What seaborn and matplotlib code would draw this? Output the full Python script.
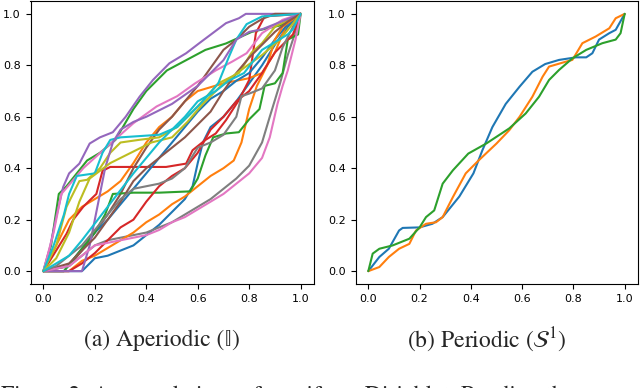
import matplotlib
matplotlib.use("Agg")
import matplotlib.pyplot as plt
import seaborn as sns
import numpy as np
import pandas as pd

# ---------------- data ----------------
# Aperiodic panel: 20 accumulated curves (tab10 order, two of each colour)
ap_blue_a_x = [0, .15, .2, .25, .3, .35, .4, .45, .5, .55, .58, .6, .62, .65, .7, .75, .8, .85, .9, .95, 1]
ap_blue_a_y = [0, 0, .05, .06, .08, .1, .14, .18, .23, .28, .33, .42, .5, .56, .6, .66, .73, .8, .88, .95, 1]
ap_orange_a_x = [0, .05, .1, .15, .2, .25, .3, .35, .4, .45, .5, .55, .6, .7, .8, .85, .9, .95, 1]
ap_orange_a_y = [0, .1, .2, .25, .28, .31, .35, .42, .5, .56, .6, .66, .7, .73, .75, .77, .85, .97, 1]
ap_green_a_x = [0, .03, .06, .09, .13, .17, .22, .28, .35, .4, .48, .555, .63, .71, .81, .92, .97, 1]
ap_green_a_y = [0, .1, .3, .33, .38, .43, .46, .51, .63, .7, .78, .82, .86, .885, .93, .955, .98, 1]
ap_red_a_x = [0, .09, .116, .155, .18, .206, .23, .26, .374, .477, .555, .58, .63, .67, .71, .76, .8, .826, .86, 1]
ap_red_a_y = [0, .145, .2, .25, .275, .3, .39, .405, .405, .405, .418, .47, .51, .535, .587, .665, .743, .925, .99, 1]
ap_purple_a_x = [0, .026, .05, .077, .1, .14, .18, .22, .27, .32, .374, .426, .49, .555, .606, .658, .71, .76, .787, 1]
ap_purple_a_y = [0, .094, .21, .327, .38, .418, .496, .52, .54, .6, .678, .743, .808, .847, .886, .925, .964, .983, 1, 1]
ap_brown_a_x = [0, .1, .15, .2, .25, .3, .35, .4, .45, .5, .55, .6, .65, .7, .75, .8, .85, .9, 1]
ap_brown_a_y = [0, .02, .08, .15, .22, .3, .4, .48, .55, .6, .66, .72, .79, .86, .9, .95, .98, 1, 1]
ap_pink_a_x = [0, .04, .07, .155, .26, .35, .44, .52, .59, .67, .735, .79, .85, .93, 1]
ap_pink_a_y = [0, .15, .3, .4, .495, .575, .64, .68, .73, .78, .815, .847, .925, .977, 1]
ap_gray_a_x = [0, .1, .15, .2, .25, .3, .35, .4, .45, .5, .55, .6, .65, .7, .75, .8, .85, .88, .92, .95, .97, 1]
ap_gray_a_y = [0, .02, .06, .1, .12, .13, .14, .15, .17, .19, .22, .25, .28, .32, .36, .41, .5, .6, .73, .84, .9, 1]
ap_olive_a_x = [0, .05, .09, .14, .17, .22, .26, .3, .37, .45, .52, .6, .68, .76, .81, .85, .9, 1]
ap_olive_a_y = [0, .1, .25, .35, .355, .4, .46, .5, .51, .52, .56, .64, .73, .77, .85, .886, .95, 1]
ap_cyan_a_x = [0, .04, .08, .1, .13, .2, .23, .26, .3, .45, .52, .57, .62, .68, .72, .75, .79, .85, 1]
ap_cyan_a_y = [0, .1, .22, .3, .37, .38, .46, .51, .52, .53, .56, .61, .66, .73, .83, .9, .96, .99, 1]
ap_blue_b_x = [0, .08, .12, .2, .25, .3, .35, .4, .45, .5, .55, .6, .65, .7, .75, .8, .85, .9, .95, 1]
ap_blue_b_y = [0, 0, .05, .15, .2, .26, .32, .38, .44, .5, .56, .62, .67, .7, .74, .77, .83, .9, .96, 1]
ap_orange_b_x = [0, .1, .15, .2, .25, .3, .35, .4, .45, .5, .55, .6, .65, .7, .74, .77, .8, .83, .87, .9, .93, 1]
ap_orange_b_y = [0, 0, .04, .06, .09, .12, .15, .19, .22, .26, .29, .33, .37, .4, .43, .5, .63, .72, .8, .9, .95, 1]
ap_green_b_x = [0, .08, .12, .16, .2, .24, .27, .35, .45, .57, .6, .63, .66, .71, .76, .8, .84, .86, .9, .93, .95, .99, 1]
ap_green_b_y = [0, 0, .05, .1, .15, .22, .3, .305, .305, .31, .36, .45, .52, .535, .54, .59, .63, .72, .73, .77, .9, .92, 1]
ap_red_b_x = [0, .1, .15, .2, .25, .3, .35, .4, .45, .5, .55, .6, .65, .7, .75, .8, .85, .9, .95, .97, 1]
ap_red_b_y = [0, 0, .03, .07, .12, .17, .2, .27, .33, .37, .4, .46, .55, .6, .66, .7, .77, .85, .9, .92, 1]
ap_purple_b_x = [0, .15, .18, .2, .22, .24, .27, .3, .35, .4, .5, .6, .7, .75, .8, .85, .9, .95, 1]
ap_purple_b_y = [0, 0, .1, .2, .3, .4, .5, .55, .58, .6, .65, .72, .82, .9, .93, .94, .96, .98, 1]
ap_brown_b_x = [0, .1, .15, .2, .25, .3, .35, .4, .45, .5, .55, .6, .65, .7, .75, .8, .85, .9, .95, 1]
ap_brown_b_y = [0, .03, .08, .13, .2, .27, .35, .4, .44, .48, .52, .57, .62, .7, .77, .83, .88, .93, .97, 1]
ap_pink_b_x = [0, .1, .15, .2, .25, .3, .35, .4, .45, .5, .55, .6, .65, .7, .75, .8, .85, .88, .91, .93, .95, .98, 1]
ap_pink_b_y = [0, .02, .06, .1, .11, .12, .13, .14, .16, .19, .21, .24, .27, .3, .34, .38, .44, .52, .65, .72, .78, .9, 1]
ap_gray_b_x = [0, .05, .1, .15, .2, .25, .3, .35, .4, .45, .5, .55, .6, .65, .7, .75, .77, .8, .85, .9, .93, .97, 1]
ap_gray_b_y = [0, .02, .06, .1, .16, .22, .28, .32, .33, .34, .36, .4, .48, .5, .53, .6, .68, .69, .71, .78, .87, .95, 1]
ap_olive_b_x = [0, .05, .1, .14, .18, .22, .26, .3, .36, .42, .5, .56, .62, .7, .78, .85, .92, 1]
ap_olive_b_y = [0, .05, .15, .27, .36, .39, .42, .44, .47, .5, .52, .58, .65, .73, .79, .84, .9, 1]
ap_cyan_b_x = [0, .05, .1, .15, .25, .35, .45, .55, .6, .67, .72, .78, .85, .9, .95, .97, 1]
ap_cyan_b_y = [0, .03, .06, .12, .25, .38, .5, .6, .66, .7, .74, .77, .86, .89, .92, .94, 1]

aperiodic_x = [ap_blue_a_x, ap_orange_a_x, ap_green_a_x, ap_red_a_x, ap_purple_a_x,
               ap_brown_a_x, ap_pink_a_x, ap_gray_a_x, ap_olive_a_x, ap_cyan_a_x,
               ap_blue_b_x, ap_orange_b_x, ap_green_b_x, ap_red_b_x, ap_purple_b_x,
               ap_brown_b_x, ap_pink_b_x, ap_gray_b_x, ap_olive_b_x, ap_cyan_b_x]
aperiodic_y = [ap_blue_a_y, ap_orange_a_y, ap_green_a_y, ap_red_a_y, ap_purple_a_y,
               ap_brown_a_y, ap_pink_a_y, ap_gray_a_y, ap_olive_a_y, ap_cyan_a_y,
               ap_blue_b_y, ap_orange_b_y, ap_green_b_y, ap_red_b_y, ap_purple_b_y,
               ap_brown_b_y, ap_pink_b_y, ap_gray_b_y, ap_olive_b_y, ap_cyan_b_y]

# Periodic panel: 3 curves
per_blue_x = [0, .043, .08, .12, .134, .2, .25, .29, .355, .41, .445, .484, .536, .59, .64, .69, .744, .81, .85, .874, .9, .94, .965, 1]
per_blue_y = [0, .055, .087, .158, .168, .17, .184, .21, .29, .38, .47, .56, .65, .717, .775, .805, .821, .831, .831, .847, .9, .925, .938, 1]
per_orange_x = [0, .043, .08, .12, .16, .186, .225, .264, .29, .33, .38, .43, .5, .55, .59, .64, .68, .705, .77, .796, .835, .887, .94, .965, 1]
per_orange_y = [0, .016, .055, .087, .106, .158, .184, .19, .21, .288, .38, .43, .496, .548, .6, .678, .756, .795, .814, .821, .886, .912, .944, .983, 1]
per_green_x = [0, .017, .043, .095, .16, .2, .225, .257, .29, .33, .39, .46, .55, .614, .666, .705, .744, .796, .85, .913, .965, .984, 1]
per_green_y = [0, .068, .087, .1, .126, .17, .21, .236, .34, .392, .457, .496, .555, .613, .678, .743, .782, .827, .86, .886, .9, .925, 1]
periodic_x = [per_blue_x, per_orange_x, per_green_x]
periodic_y = [per_blue_y, per_orange_y, per_green_y]

tick_values = [0.0, 0.2, 0.4, 0.6, 0.8, 1.0]
tick_labels = ["0.0", "0.2", "0.4", "0.6", "0.8", "1.0"]
caption_a = "(a) Aperiodic (\U0001D540)"
caption_b = r"(b) Periodic ($\mathcal{S}^1$)"
figure_caption = "Figure 2: Accumulations of a uniform Dirichlet. Reading these as warps of"

# ---------------- drawing ----------------
sns.set_style("ticks")
plt.rcParams["mathtext.fontset"] = "stix"
plt.rcParams["font.family"] = ["DejaVu Sans"]
palette = sns.color_palette("tab10")

fig = plt.figure(figsize=(6.4, 3.88), dpi=100)
W, H = 640.0, 388.0
ax1 = fig.add_axes([30.5 / W, 104 / H, 283 / W, 283 / H])
ax2 = fig.add_axes([355.5 / W, 104 / H, 282 / W, 283 / H])


def draw(ax, xs, ys):
    for i, (x, y) in enumerate(zip(xs, ys)):
        df = pd.DataFrame({"x": x, "y": y})
        sns.lineplot(data=df, x="x", y="y", ax=ax, color=palette[i % 10],
                     linewidth=1.5, estimator=None, sort=False)
    ax.set_xlim(-0.05, 1.05)
    ax.set_ylim(-0.05, 1.05)
    ax.set_xticks(tick_values)
    ax.set_xticklabels(tick_labels)
    ax.set_yticks(tick_values)
    ax.set_yticklabels(tick_labels)
    ax.set_xlabel("")
    ax.set_ylabel("")
    ax.tick_params(labelsize=8, length=3.5, width=0.8, colors="black")
    for s in ax.spines.values():
        s.set_linewidth(0.8)
        s.set_color("black")


draw(ax1, aperiodic_x, aperiodic_y)
draw(ax2, periodic_x, periodic_y)

serif = ["STIXGeneral", "DejaVu Serif", "DejaVu Sans"]
fig.text(162 / W, 1 - 340 / H, caption_a, ha="center", va="center",
         fontsize=17, family=serif)
fig.text(487 / W, 1 - 340 / H, caption_b, ha="center", va="center",
         fontsize=17, family=serif)
fig.text(1 / W, -14 / H, figure_caption, ha="left", va="baseline",
         fontsize=17, family=serif)

fig.savefig("out.png", dpi=100)
